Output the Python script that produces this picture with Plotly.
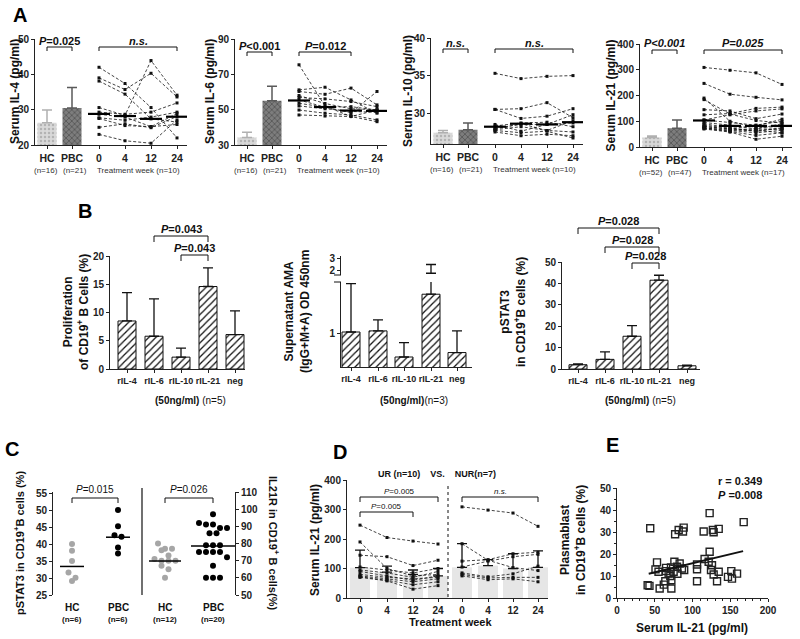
import plotly.graph_objects as go

W, H = 800, 639
FONT = "Liberation Sans, Arial, Helvetica, sans-serif"


def X(p):
    return p / W


def Y(p):
    return 1 - p / H


# ======================= DATA =======================
# ---- Panel A ----
cohort = ["HC", "PBC"]
week_labels = ["0", "4", "12", "24"]

il4_bar = [26.3, 30.5]
il4_bar_upper = [29.9, 36.3]
il4_n = ["(n=16)", "(n=21)"]
il4_patients = [
    [42.0, 37.4, 30.6, 22.0],
    [39.0, 35.7, 40.3, 33.6],
    [38.1, 34.4, 27.4, 26.5],
    [30.6, 28.4, 43.9, 34.1],
    [29.3, 28.7, 29.3, 31.9],
    [28.7, 27.9, 25.2, 28.9],
    [27.7, 27.0, 27.9, 29.3],
    [25.0, 26.0, 24.9, 28.1],
    [23.0, 21.2, 20.5, 27.1],
    [27.5, 25.5, 25.2, 25.8],
]
il4_median = [28.8, 28.2, 27.4, 28.0]

il6_bar = [34.2, 55.0]
il6_bar_upper = [37.2, 63.3]
il6_n = ["(n=16)", "(n=21)"]
il6_patients = [
    [75.4, 52.1, 46.1, 43.2],
    [61.2, 62.7, 55.5, 48.0],
    [60.3, 58.7, 62.2, 52.7],
    [56.9, 56.1, 54.6, 51.7],
    [55.5, 51.4, 48.3, 60.3],
    [53.6, 51.4, 51.7, 49.8],
    [49.8, 48.0, 47.0, 44.2],
    [47.0, 46.4, 46.1, 49.8],
    [52.1, 50.5, 49.0, 48.5],
    [58.0, 53.5, 50.5, 50.0],
]
il6_median = [55.2, 51.5, 49.5, 49.3]

il10_bar = [27.4, 27.8]
il10_bar_upper = [27.7, 28.7]
il10_n = ["(n=16)", "(n=21)"]
il10_patients = [
    [35.3, 34.6, 34.9, 35.0],
    [30.5, 30.6, 31.4, 29.4],
    [30.5, 29.3, 29.6, 30.6],
    [28.3, 28.7, 28.8, 28.2],
    [28.0, 28.5, 28.5, 29.8],
    [27.8, 28.2, 27.7, 27.5],
    [27.5, 27.0, 27.2, 27.0],
    [27.7, 27.4, 27.6, 26.7],
    [28.5, 27.6, 28.5, 28.7],
    [27.9, 28.6, 27.7, 29.0],
]
il10_median = [28.2, 28.6, 28.5, 28.8]

il21_bar = [37, 73]
il21_bar_upper = [43, 105]
il21_n = ["(n=52)", "(n=47)"]
il21_median = [103, 82, 82, 82]

# ---- Panel D (UR / NUR serum IL-21 by week); panel A IL-21 uses both ----
ur_patients = [
    [247, 205, 193, 183],
    [190, 100, 75, 80],
    [145, 140, 110, 128],
    [105, 95, 85, 100],
    [95, 85, 70, 90],
    [90, 75, 60, 75],
    [80, 70, 65, 70],
    [75, 65, 55, 65],
    [72, 60, 45, 55],
    [70, 58, 30, 42],
]
nur_patients = [
    [309, 298, 288, 243],
    [184, 128, 103, 93],
    [125, 130, 150, 155],
    [105, 125, 140, 148],
    [85, 72, 82, 108],
    [80, 68, 70, 70],
    [75, 62, 65, 55],
]
ur_bar = [103, 88, 80, 75]
ur_bar_upper = [162, 108, 95, 100]
nur_bar = [104, 110, 100, 104]
nur_bar_upper = [184, 130, 150, 160]

# ---- Panel B ----
b_labels = ["rIL-4", "rIL-6", "rIL-10", "rIL-21", "neg"]
prolif_mean = [8.5, 5.8, 2.1, 14.6, 6.1]
prolif_upper = [13.5, 12.4, 3.7, 17.9, 10.3]
ama_mean = [1.03, 1.05, 0.58, 1.71, 0.66]
ama_upper = [1.9, 1.25, 0.84, 2.5, 1.05]
pstat_mean = [2.0, 4.5, 15.3, 41.5, 1.5]
pstat_upper = [2.4, 8.0, 20.3, 43.8, 1.8]

# ---- Panel C ----
c_groups = ["HC", "PBC", "HC", "PBC"]
c_ns = ["(n=6)", "(n=6)", "(n=12)", "(n=20)"]
pstat3_hc = [40.0, 38.0, 35.0, 31.6, 30.1, 29.1]
pstat3_pbc = [50.0, 45.2, 42.6, 42.1, 39.0, 37.2]
pstat3_median = [33.4, 42.0]
il21r_hc = [80, 77, 77, 76, 73, 71, 70, 70, 70, 67, 65, 60]
il21r_pbc = [97, 92, 91, 91, 89, 89, 86, 86, 79, 79, 79, 75, 75, 75, 75, 72, 67, 60, 60, 60]
il21r_median = [69.8, 78.6]

# ---- Panel E ----
e_il21 = [40.6, 43, 44, 53, 51, 55, 56.5, 62, 64, 65, 65, 68.4, 71.5, 70.6, 72, 72,
          76, 77, 75, 79.5, 80, 81.7, 83, 86, 87.4, 88.3, 89, 106, 106, 106, 114.8,
          116, 121.4, 122.7, 122.7, 124.5, 125.8, 127, 128, 128, 134.7, 132.5, 134.7,
          147, 151.4, 152.3, 159, 167.8]
e_plasma = [5.8, 5.5, 31.7, 16.2, 13, 11.9, 4.3, 6.1, 7.6, 12.2, 13.7, 11.1, 13.9, 10,
            8.1, 4.3, 16.5, 29, 11.9, 14.2, 11, 30.9, 15.7, 13.4, 30.2, 32, 12.7, 7.6,
            13.1, 15.2, 30.2, 17.7, 16.5, 21, 38.6, 12.7, 14.9, 30.9, 10.7, 29.9, 31.4,
            7.6, 11.9, 9.6, 12.2, 8.8, 11.1, 34.5]
e_fit_x = [42, 167]
e_fit_y = [11.0, 21.3]

# ======================= HELPERS =======================
traces, shapes, annotations = [], [], []
axes = {}
AXC = "#222"
TICKFONT = dict(family=FONT, size=10, color="#222", weight="bold")
DASH = "3px,2px"


def names(n):
    if n == 1:
        return "xaxis", "yaxis", "x", "y"
    return f"xaxis{n}", f"yaxis{n}", f"x{n}", f"y{n}"


def base_axis(**kw):
    d = dict(showgrid=False, zeroline=False, showline=True, linecolor=AXC,
             linewidth=1, ticks="outside", ticklen=3, tickwidth=1,
             tickcolor=AXC, tickfont=TICKFONT, fixedrange=True)
    d.update(kw)
    return d


def subplot(n, x0, x1, top, bot, xr, yr, xkw=None, ykw=None):
    xa, ya, xs, ys = names(n)
    axes[xa] = base_axis(domain=[X(x0), X(x1)], range=xr, anchor=ys, **(xkw or {}))
    axes[ya] = base_axis(domain=[Y(bot), Y(top)], range=yr, anchor=xs, **(ykw or {}))
    return xs, ys


def text(x, y, s, size=10, bold=False, angle=0, color="#111", xanchor="center", yanchor="middle"):
    annotations.append(dict(x=X(x), y=Y(y), xref="paper", yref="paper", text=s,
                            showarrow=False, textangle=angle, xanchor=xanchor,
                            yanchor=yanchor,
                            font=dict(family=FONT, size=size, color=color,
                                      weight="bold" if bold else "normal")))


def line(x0, y0, x1, y1, width=1, dash="solid", color="#111"):
    shapes.append(dict(type="line", xref="paper", yref="paper", x0=X(x0), y0=Y(y0),
                       x1=X(x1), y1=Y(y1), line=dict(color=color, width=width, dash=dash)))


def bracket(x1, x2, ytop, yleg, label, ylab, size=10, bold=True):
    shapes.append(dict(type="path", xref="paper", yref="paper",
                       path=f"M {X(x1)},{Y(yleg)} L {X(x1)},{Y(ytop)} L {X(x2)},{Y(ytop)} L {X(x2)},{Y(yleg)}",
                       line=dict(color="#111", width=1)))
    text((x1 + x2) / 2, ylab, label, size=size, bold=bold)


def dotted_lines(xs, ys, xvals, series):
    for s in series:
        traces.append(go.Scatter(x=xvals, y=s, xaxis=xs, yaxis=ys, mode="lines+markers",
                                 line=dict(color="#111", width=0.8, dash=DASH),
                                 marker=dict(symbol="square", size=3, color="#111"),
                                 showlegend=False, hoverinfo="skip"))


# ======================= PANEL A =======================
A_POS = [12, 37, 64, 90, 116, 142]
A_W = 152


def panel_A(n, x0, top, bot, yr, yt, title, title_x, bar, up, ns, pts, med, tw, brs):
    xs, ys = subplot(n, x0, x0 + A_W, top, bot, [0, A_W], yr,
                     xkw=dict(tickvals=A_POS, ticktext=cohort + week_labels,
                              tickfont=dict(TICKFONT, size=10.5)),
                     ykw=dict(tickvals=yt))
    styles = [("#d9d9d9", "#b3b3b3", ".", "#b0b0b0"), ("#7d7d7d", "#4a4a4a", "x", "#5a5a5a")]
    for i in range(2):
        c, fg, shp, ec = styles[i]
        traces.append(go.Bar(x=[A_POS[i]], y=[bar[i]], width=19, xaxis=xs, yaxis=ys,
                             marker=dict(color=c, line=dict(width=0),
                                         pattern=dict(shape=shp, fgcolor=fg, bgcolor=c, size=4, solidity=0.3)),
                             error_y=dict(type="data", symmetric=False, array=[up[i] - bar[i]],
                                          arrayminus=[0], color=ec, thickness=1.5, width=5),
                             showlegend=False, hoverinfo="skip"))
    dotted_lines(xs, ys, A_POS[2:], pts)
    mx, my = [], []
    for i, m in enumerate(med):
        mx += [A_POS[2 + i] - 11, A_POS[2 + i] + 11, None]
        my += [m, m, None]
    traces.append(go.Scatter(x=mx, y=my, xaxis=xs, yaxis=ys, mode="lines",
                             line=dict(color="#000", width=2.2), showlegend=False, hoverinfo="skip"))
    text(x0 + A_POS[0] - 1, bot + 25, ns[0], size=8, color="#333")
    text(x0 + A_POS[1] + 3, bot + 25, ns[1], size=8, color="#333")
    text(x0 + (A_POS[2] + A_POS[5]) / 2, bot + 25, tw, size=8, color="#333")
    text(title_x, (top + bot) / 2, title, size=12, bold=True, angle=-90)
    for i1, i2, lab, ytop, yleg, ylab in brs:
        bracket(x0 + A_POS[i1], x0 + A_POS[i2], ytop, yleg, lab, ylab, size=11)


panel_A(1, 35, 39, 145, [20, 50], [20, 30, 40, 50], "Serum IL-4 (pg/ml)", 15,
        il4_bar, il4_bar_upper, il4_n, il4_patients, il4_median, "Treatment week (n=10)",
        [(0, 1, "<i>P</i>=0.025", 47, 51, 41), (2, 5, "<i>n.s.</i>", 47, 51, 41)])
panel_A(2, 235, 39, 145, [30, 90], [30, 50, 70, 90], "Serum IL-6 (pg/ml)", 210,
        il6_bar, il6_bar_upper, il6_n, il6_patients, il6_median, "Treatment week (n=10)",
        [(0, 1, "<i>P</i>&lt;0.001", 52, 56, 46), (2, 4, "<i>P</i>=0.012", 52, 56, 46)])
panel_A(3, 431, 38, 144, [25.9, 40], [30, 35, 40], "Serum IL-10 (pg/ml)", 408,
        il10_bar, il10_bar_upper, il10_n, il10_patients, il10_median, "Treatment week (n=10)",
        [(0, 1, "<i>n.s.</i>", 49, 53, 43), (2, 5, "<i>n.s.</i>", 49, 53, 43)])
panel_A(4, 640, 44, 147, [0, 400], [0, 100, 200, 300, 400], "Serum IL-21 (pg/ml)", 610,
        il21_bar, il21_bar_upper, il21_n, ur_patients + nur_patients, il21_median,
        "Treatment week (n=17)",
        [(0, 1, "<i>P&lt;0.001</i>", 50, 54, 43), (2, 5, "<i>P=0.025</i>", 50, 54, 43)])

# ======================= PANEL B =======================
HATCH = dict(color="white", line=dict(color="#111", width=1),
             pattern=dict(shape="/", fgcolor="#111", bgcolor="white", size=5, solidity=0.25))


def hatched_bars(xs, ys, pos, mean, upper):
    traces.append(go.Bar(x=pos, y=mean, width=18, xaxis=xs, yaxis=ys, marker=HATCH,
                         error_y=dict(type="data", symmetric=False,
                                      array=[u - m for u, m in zip(upper, mean)],
                                      arrayminus=[0] * len(mean), color="#111",
                                      thickness=1.3, width=5),
                         showlegend=False, hoverinfo="skip"))


B_BOT = 369
# B1
b1_pos = [17, 44, 71, 98, 125]
xs, ys = subplot(5, 110, 245, 256, B_BOT, [0, 135], [0, 20],
                 xkw=dict(tickvals=b1_pos, ticktext=b_labels, tickfont=dict(TICKFONT, size=9)),
                 ykw=dict(tickvals=[0, 5, 10, 15, 20]))
hatched_bars(xs, ys, b1_pos, prolif_mean, prolif_upper)
text(76, 312, "Proliferation<br>of CD19<sup>+</sup> B Cells (%)", size=12, bold=True, angle=-90)
text(190, 401, "<b>(50ng/ml)</b> (n=5)", size=10)
bracket(110 + b1_pos[1], 110 + b1_pos[3], 236, 242, "<i>P</i>=0.043", 229, size=11)
bracket(110 + b1_pos[2], 110 + b1_pos[3], 255, 261, "<i>P</i>=0.043", 248, size=11)

# B2 (broken axis: lower + upper segments)
b2_pos = [10, 37, 63, 90, 116]
xs, ys = subplot(6, 341, 472, 282, 367, [0, 131], [0.4, 1.93],
                 xkw=dict(tickvals=b2_pos, ticktext=b_labels, tickfont=dict(TICKFONT, size=9)),
                 ykw=dict(tickvals=[1]))
hatched_bars(xs, ys, b2_pos, ama_mean, ama_upper)
xs7, ys7 = subplot(7, 341, 472, 256, 275, [0, 131], [1.55, 3.27],
                   xkw=dict(visible=False), ykw=dict(tickvals=[2, 3]))
i21 = b_labels.index("rIL-21")
traces.append(go.Scatter(x=[b2_pos[i21]], y=[ama_upper[i21]], xaxis=xs7, yaxis=ys7,
                         mode="markers", marker=dict(size=1, color="rgba(0,0,0,0)"),
                         error_y=dict(type="data", symmetric=False, array=[0],
                                      arrayminus=[ama_upper[i21] - ama_mean[i21]],
                                      color="#111", thickness=1.3, width=5),
                         showlegend=False, hoverinfo="skip"))
line(334, 282, 341, 282)
line(334, 275, 341, 275)
text(297, 312, "Supernatant AMA<br>(IgG+M+A) OD 450nm", size=12, bold=True, angle=-90)
text(414, 401, "<b>(50ng/ml)</b>(n=3)", size=10)

# B3
b3_pos = [16, 43, 70, 97, 125]
xs, ys = subplot(8, 562, 700, 262, B_BOT, [0, 138], [0, 50],
                 xkw=dict(tickvals=b3_pos, ticktext=b_labels, tickfont=dict(TICKFONT, size=9)),
                 ykw=dict(tickvals=[0, 10, 20, 30, 40, 50]))
hatched_bars(xs, ys, b3_pos, pstat_mean, pstat_upper)
text(513, 312, "pSTAT3<br>in CD19<sup>+</sup>B cells (%)", size=12, bold=True, angle=-90)
text(640, 401, "<b>(50ng/ml)</b> (n=5)", size=10)
bracket(562 + b3_pos[0], 562 + b3_pos[3], 228, 234, "<i>P</i>=0.028", 221, size=11)
bracket(562 + b3_pos[1], 562 + b3_pos[3], 247, 253, "<i>P</i>=0.028", 240, size=11)
bracket(562 + b3_pos[2], 562 + b3_pos[3], 263, 269, "<i>P</i>=0.028", 256, size=11)

# ======================= PANEL C =======================
C_X0, C_TOP, C_BOT = 53, 492, 595
c_pos = [19, 65, 112, 160]
xs, ys = subplot(9, C_X0, 235, C_TOP, C_BOT, [0, 182], [25, 55.3],
                 xkw=dict(visible=False),
                 ykw=dict(tickvals=[25, 30, 35, 40, 45, 50, 55]))
axes["yaxis10"] = base_axis(range=[50, 110], overlaying="y9", side="right", anchor="x9",
                            tickvals=[50, 60, 70, 80, 90, 100, 110])


def swarm(vals, center, px_per_unit, step=7.0, thr=6.0):
    order = sorted(range(len(vals)), key=lambda k: -vals[k])
    xs_out = [0.0] * len(vals)
    clusters, cur = [], []
    for k in order:
        if cur and (vals[cur[0]] - vals[k]) * px_per_unit >= thr:
            clusters.append(cur)
            cur = []
        cur.append(k)
    if cur:
        clusters.append(cur)
    for cl in clusters:
        m = len(cl)
        for j, k in enumerate(cl):
            xs_out[k] = center + (j - (m - 1) / 2) * step
    return xs_out


pxu_left = (C_BOT - C_TOP) / (55.3 - 25)
pxu_right = (C_BOT - C_TOP) / (110 - 50)
for vals, pos, col, yax, pxu in [
    (pstat3_hc, c_pos[0], "#a6a6a6", "y9", pxu_left),
    (pstat3_pbc, c_pos[1], "#000", "y9", pxu_left),
    (il21r_hc, c_pos[2], "#a6a6a6", "y10", pxu_right),
    (il21r_pbc, c_pos[3], "#000", "y10", pxu_right),
]:
    traces.append(go.Scatter(x=swarm(vals, pos, pxu), y=vals, xaxis="x9", yaxis=yax,
                             mode="markers", marker=dict(size=6, color=col),
                             showlegend=False, hoverinfo="skip"))
for (m, pos, half, yax) in [(pstat3_median[0], c_pos[0], 12, "y9"), (pstat3_median[1], c_pos[1], 12, "y9"),
                            (il21r_median[0], c_pos[2], 16, "y10"), (il21r_median[1], c_pos[3], 22, "y10")]:
    traces.append(go.Scatter(x=[pos - half, pos + half], y=[m, m], xaxis="x9", yaxis=yax,
                             mode="lines", line=dict(color="#000", width=1.5),
                             showlegend=False, hoverinfo="skip"))
line(142, 488, 142, 595, width=1.2)
for i in range(4):
    text(C_X0 + c_pos[i], 607, c_groups[i], size=10, bold=True)
    text(C_X0 + c_pos[i], 619, c_ns[i], size=8, bold=True)
bracket(C_X0 + c_pos[0], C_X0 + c_pos[1], 498, 503, "<i>P</i>=0.015", 489, size=10, bold=False)
bracket(C_X0 + c_pos[2], C_X0 + c_pos[3], 498, 503, "<i>P</i>=0.026", 489, size=10, bold=False)
text(19, 543, "pSTAT3 in CD19<sup>+</sup>B cells (%)", size=11, bold=True, angle=-90)
text(274, 543, "IL21R in CD19<sup>+</sup> B cells(%)", size=11, bold=True, angle=90)

# ======================= PANEL D =======================
D_X0 = 347
d_pos = [13, 40, 66, 91, 115, 141, 166, 191]
xs, ys = subplot(11, D_X0, 548, 480, 598, [0, 201], [0, 400],
                 xkw=dict(tickvals=d_pos, ticktext=week_labels + week_labels),
                 ykw=dict(tickvals=[0, 100, 200, 300, 400]))
for pos, mean, up in [(d_pos[:4], ur_bar, ur_bar_upper), (d_pos[4:], nur_bar, nur_bar_upper)]:
    traces.append(go.Bar(x=pos, y=mean, width=20, xaxis=xs, yaxis=ys,
                         marker=dict(color="#e6e6e6", line=dict(width=0)),
                         error_y=dict(type="data", symmetric=False,
                                      array=[u - m for u, m in zip(up, mean)],
                                      arrayminus=[0] * 4, color="#111", thickness=1.3, width=5),
                         showlegend=False, hoverinfo="skip"))
dotted_lines(xs, ys, d_pos[:4], ur_patients)
dotted_lines(xs, ys, d_pos[4:], nur_patients)
line(448, 486, 448, 598, width=1, dash="dot")
text(437, 474, "UR (n=10)    VS.    NUR(n=7)", size=9, bold=True)
bracket(D_X0 + d_pos[0], D_X0 + d_pos[3], 497, 502, "<i>P</i>=0.005", 491, size=8, bold=False)
bracket(D_X0 + d_pos[0], D_X0 + d_pos[2], 512, 517, "<i>P</i>=0.005", 506, size=8, bold=False)
bracket(D_X0 + d_pos[4], D_X0 + d_pos[7], 497, 502, "<i>n.s.</i>", 491, size=8, bold=False)
text(450, 622, "Treatment week", size=11, bold=True)
text(315, 540, "Serum IL-21 (pg/ml)", size=12, bold=True, angle=-90)

# ======================= PANEL E =======================
xs, ys = subplot(12, 617, 768, 488, 598, [0, 200], [0, 50],
                 xkw=dict(tickvals=[0, 50, 100, 150, 200],
                          minor=dict(dtick=10, ticks="outside", ticklen=2, tickcolor=AXC)),
                 ykw=dict(tickvals=[0, 10, 20, 30, 40, 50],
                          minor=dict(dtick=5, ticks="outside", ticklen=2, tickcolor=AXC)))
traces.append(go.Scatter(x=e_il21, y=e_plasma, xaxis=xs, yaxis=ys, mode="markers",
                         marker=dict(symbol="square-open", size=7, color="#222", line=dict(width=1.4)),
                         showlegend=False, hoverinfo="skip"))
traces.append(go.Scatter(x=e_fit_x, y=e_fit_y, xaxis=xs, yaxis=ys, mode="lines",
                         line=dict(color="#111", width=2), showlegend=False, hoverinfo="skip"))
text(764, 481, "r = 0.349", size=11, bold=True, xanchor="right")
text(764, 495, "<i>P</i> =0.008", size=11, bold=True, xanchor="right")
text(692, 628, "Serum IL-21 (pg/ml)", size=12, bold=True)
text(573, 540, "Plasmablast<br>in CD19<sup>+</sup>B cells (%)", size=12, bold=True, angle=-90)

# ======================= PANEL LETTERS =======================
for letter, lx, ly in [("A", 20, 15), ("B", 85, 211), ("C", 12, 449), ("D", 340, 452), ("E", 612, 445)]:
    text(lx, ly, letter, size=20, bold=True, color="#000")

fig = go.Figure(data=traces)
fig.update_layout(width=W, height=H, autosize=False, margin=dict(l=0, r=0, t=0, b=0),
                  paper_bgcolor="white", plot_bgcolor="rgba(0,0,0,0)", template="none",
                  showlegend=False, hovermode=False, barmode="overlay",
                  font=dict(family=FONT, size=10, color="#111"),
                  shapes=shapes, annotations=annotations, **axes)
fig.write_html("out.html", config={"displayModeBar": False},
               post_script="document.body.style.margin='0';document.body.style.padding='0';")
